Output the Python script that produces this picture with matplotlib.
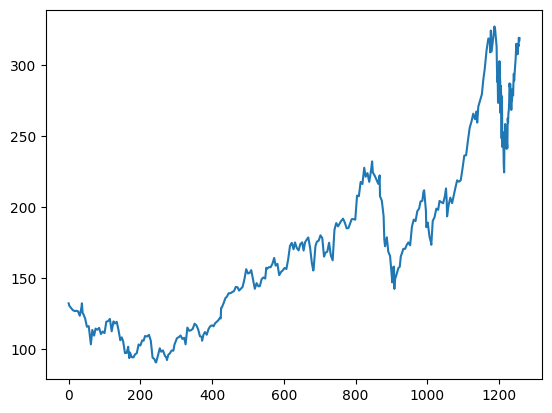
import matplotlib
matplotlib.use("Agg")
import matplotlib.pyplot as plt
import pandas as pd
import numpy as np

# Closing prices (roughly weekly with extra points at turns)
dates = [
 "2015-05-27","2015-05-29","2015-06-05","2015-06-12","2015-06-19","2015-06-26","2015-07-02","2015-07-10",
 "2015-07-17","2015-07-20","2015-07-22","2015-07-24","2015-07-31","2015-08-07","2015-08-14","2015-08-21","2015-08-24",
 "2015-08-28","2015-09-04","2015-09-11","2015-09-18","2015-09-25","2015-10-02","2015-10-09","2015-10-16",
 "2015-10-23","2015-10-30","2015-11-06","2015-11-13","2015-11-20","2015-11-27","2015-12-04","2015-12-11",
 "2015-12-18","2015-12-24","2015-12-31",
 "2016-01-08","2016-01-15","2016-01-22","2016-01-27","2016-01-29","2016-02-05","2016-02-12","2016-02-19",
 "2016-02-26","2016-03-04","2016-03-11","2016-03-18","2016-03-24","2016-03-31","2016-04-08","2016-04-15",
 "2016-04-22","2016-04-29","2016-05-06","2016-05-12","2016-05-13","2016-05-20","2016-05-27","2016-06-03",
 "2016-06-10","2016-06-17","2016-06-24","2016-06-27","2016-07-01","2016-07-08","2016-07-15","2016-07-22",
 "2016-07-27","2016-07-29","2016-08-05","2016-08-12","2016-08-19","2016-08-26","2016-09-02","2016-09-09",
 "2016-09-16","2016-09-23","2016-09-30","2016-10-07","2016-10-14","2016-10-21","2016-10-28","2016-11-04",
 "2016-11-11","2016-11-14","2016-11-18","2016-11-25","2016-12-02","2016-12-09","2016-12-16","2016-12-23",
 "2016-12-30",
 "2017-01-06","2017-01-13","2017-01-20","2017-01-27","2017-01-31","2017-02-01","2017-02-03","2017-02-10",
 "2017-02-17","2017-02-24","2017-03-03","2017-03-10","2017-03-17","2017-03-24","2017-03-31","2017-04-07",
 "2017-04-13","2017-04-21","2017-04-28","2017-05-05","2017-05-12","2017-05-19","2017-05-26","2017-06-02",
 "2017-06-09","2017-06-16","2017-06-23","2017-06-30","2017-07-07","2017-07-14","2017-07-21","2017-07-28",
 "2017-08-02","2017-08-04","2017-08-11","2017-08-18","2017-08-25","2017-09-01","2017-09-08","2017-09-15",
 "2017-09-22","2017-09-29","2017-10-06","2017-10-13","2017-10-20","2017-10-27","2017-11-03","2017-11-10",
 "2017-11-17","2017-11-24","2017-12-01","2017-12-08","2017-12-15","2017-12-22","2017-12-29",
 "2018-01-05","2018-01-12","2018-01-19","2018-01-26","2018-02-02","2018-02-08","2018-02-09","2018-02-16",
 "2018-02-23","2018-03-02","2018-03-09","2018-03-16","2018-03-23","2018-03-29","2018-04-06","2018-04-13",
 "2018-04-20","2018-04-27","2018-05-04","2018-05-11","2018-05-18","2018-05-25","2018-06-01","2018-06-08",
 "2018-06-15","2018-06-22","2018-06-29","2018-07-06","2018-07-13","2018-07-20","2018-07-27","2018-08-03",
 "2018-08-10","2018-08-17","2018-08-24","2018-08-31","2018-09-07","2018-09-14","2018-09-21","2018-09-28",
 "2018-10-03","2018-10-05","2018-10-12","2018-10-19","2018-10-26","2018-11-01","2018-11-02","2018-11-09",
 "2018-11-16","2018-11-20","2018-11-23","2018-11-30","2018-12-07","2018-12-14","2018-12-21","2018-12-24",
 "2018-12-26","2018-12-28","2018-12-31",
 "2019-01-02","2019-01-03","2019-01-04","2019-01-11","2019-01-18","2019-01-25","2019-01-30","2019-02-01",
 "2019-02-08","2019-02-15","2019-02-22","2019-03-01","2019-03-08","2019-03-15","2019-03-22","2019-03-29",
 "2019-04-05","2019-04-12","2019-04-18","2019-04-26","2019-05-01","2019-05-03","2019-05-10","2019-05-13",
 "2019-05-17","2019-05-24","2019-05-31","2019-06-03","2019-06-07","2019-06-14","2019-06-21","2019-06-28",
 "2019-07-05","2019-07-12","2019-07-19","2019-07-26","2019-07-31","2019-08-02","2019-08-05","2019-08-09",
 "2019-08-16","2019-08-23","2019-08-30","2019-09-06","2019-09-13","2019-09-20","2019-09-27","2019-10-04",
 "2019-10-11","2019-10-18","2019-10-25","2019-11-01","2019-11-08","2019-11-15","2019-11-22","2019-11-29",
 "2019-12-03","2019-12-06","2019-12-13","2019-12-20","2019-12-27","2019-12-31",
 "2020-01-03","2020-01-10","2020-01-17","2020-01-24","2020-01-27","2020-01-29","2020-01-31","2020-02-07",
 "2020-02-12","2020-02-14","2020-02-21","2020-02-24","2020-02-25","2020-02-26","2020-02-27","2020-02-28",
 "2020-03-02","2020-03-03","2020-03-04","2020-03-05","2020-03-06","2020-03-09","2020-03-10","2020-03-11",
 "2020-03-12","2020-03-13","2020-03-16","2020-03-17","2020-03-18","2020-03-19","2020-03-20","2020-03-23",
 "2020-03-24","2020-03-25","2020-03-26","2020-03-27","2020-03-30","2020-03-31",
 "2020-04-01","2020-04-02","2020-04-03","2020-04-06","2020-04-07","2020-04-08","2020-04-09","2020-04-13",
 "2020-04-14","2020-04-15","2020-04-16","2020-04-17","2020-04-20","2020-04-21","2020-04-22","2020-04-23",
 "2020-04-24","2020-04-27","2020-04-28","2020-04-29","2020-04-30",
 "2020-05-01","2020-05-04","2020-05-05","2020-05-06","2020-05-07","2020-05-08","2020-05-11","2020-05-12",
 "2020-05-13","2020-05-14","2020-05-15","2020-05-18","2020-05-19","2020-05-20","2020-05-21","2020-05-22",
]

close = [
 132.05,130.28,128.65,127.17,126.60,126.75,126.44,123.28,
 129.62,132.07,125.16,124.50,121.30,115.52,115.96,105.76,103.12,
 113.29,109.27,114.21,113.45,114.71,110.38,112.12,111.04,
 119.08,119.50,121.06,112.34,119.30,117.81,119.03,113.18,
 106.03,108.03,105.26,
 96.96,97.13,101.42,93.42,97.34,94.02,93.99,96.04,
 96.91,103.01,102.26,105.92,105.67,108.99,108.66,109.85,
 105.68,93.74,92.72,90.34,90.52,95.22,100.35,97.92,
 98.83,95.33,93.40,92.04,95.89,96.68,98.78,98.66,
 102.95,104.21,107.48,108.18,109.36,106.94,107.73,103.13,
 114.92,112.71,113.05,114.06,117.63,116.60,113.72,108.84,
 108.43,105.71,110.06,111.79,109.90,113.95,115.97,116.52,
 115.82,
 117.91,119.04,120.00,121.95,121.35,128.75,129.08,132.12,
 135.72,136.66,139.14,139.14,139.99,140.64,143.66,143.34,
 141.05,142.27,143.65,148.96,156.10,153.06,153.61,155.45,
 148.98,142.27,146.28,144.02,144.18,149.04,150.27,149.50,
 157.14,156.39,157.48,157.50,159.86,164.05,158.63,159.88,
 151.89,154.12,155.30,156.99,156.25,163.05,172.50,174.67,
 170.15,174.97,171.05,169.37,173.87,175.01,169.23,
 175.00,177.09,178.46,171.51,160.50,155.15,156.41,172.43,
 175.50,176.21,179.98,178.02,164.94,167.78,168.38,174.73,
 165.72,162.32,183.83,188.59,186.31,188.58,190.24,191.70,
 188.84,184.92,185.11,187.97,191.33,191.44,190.98,207.99,
 207.53,217.58,216.16,227.63,221.30,223.84,217.66,225.74,
 232.07,224.29,222.11,219.31,216.30,222.22,207.48,204.47,
 193.53,176.98,172.29,178.58,168.49,165.48,150.73,146.83,
 157.17,156.23,157.74,
 157.92,142.19,148.26,152.29,156.82,157.76,165.25,166.52,
 170.41,170.42,172.97,174.97,172.91,186.12,191.05,189.95,
 197.00,198.87,203.86,204.30,210.52,211.75,197.18,185.72,
 189.00,178.97,175.07,173.30,190.15,192.74,198.78,197.92,
 204.23,203.30,202.59,207.74,213.04,204.02,193.34,200.99,
 206.50,202.64,208.74,213.26,218.75,217.73,218.82,227.01,
 236.21,236.41,246.58,255.82,260.14,265.76,261.78,267.25,
 259.45,270.71,275.15,279.44,289.80,293.65,
 297.43,310.33,318.73,318.31,308.95,324.34,309.51,320.03,
 327.20,324.95,313.05,298.18,288.08,292.65,273.52,273.36,
 298.81,289.32,302.74,292.92,289.03,266.17,285.34,275.43,
 248.23,277.97,242.21,252.86,246.67,244.78,229.24,224.37,
 246.88,245.52,258.44,247.74,254.81,254.29,
 240.91,244.93,241.41,262.47,259.43,266.07,267.99,273.25,
 287.05,284.43,286.69,282.80,276.93,268.37,276.10,275.03,
 282.97,283.17,278.58,287.73,293.80,
 289.07,293.16,297.56,300.63,303.74,310.13,315.01,311.41,
 307.65,309.54,307.71,314.96,313.14,319.23,316.85,318.89,
]

holidays = [
 "2015-07-03","2015-09-07","2015-11-26","2015-12-25",
 "2016-01-01","2016-01-18","2016-02-15","2016-03-25","2016-05-30","2016-07-04","2016-09-05","2016-11-24","2016-12-26",
 "2017-01-02","2017-01-16","2017-02-20","2017-04-14","2017-05-29","2017-07-04","2017-09-04","2017-11-23","2017-12-25",
 "2018-01-01","2018-01-15","2018-02-19","2018-03-30","2018-05-28","2018-07-04","2018-09-03","2018-11-22","2018-12-05","2018-12-25",
 "2019-01-01","2019-01-21","2019-02-18","2019-04-19","2019-05-27","2019-07-04","2019-09-02","2019-11-28","2019-12-25",
 "2020-01-01","2020-01-20","2020-02-17","2020-04-10","2020-05-25",
]

# Trading-day index of each observation (row number in the original daily table)
cal = pd.bdate_range(dates[0], dates[-1])
cal = cal[~cal.isin(pd.to_datetime(holidays))]
idx = cal.get_indexer(pd.to_datetime(dates))
idx = np.where(idx < 0, cal.searchsorted(pd.to_datetime(dates)), idx)

fig, ax = plt.subplots(figsize=(6.4, 4.8), dpi=100)
ax.plot(idx, close, color="#1f77b4", linewidth=1.5)
fig.savefig("out.png", dpi=100, bbox_inches="tight")
